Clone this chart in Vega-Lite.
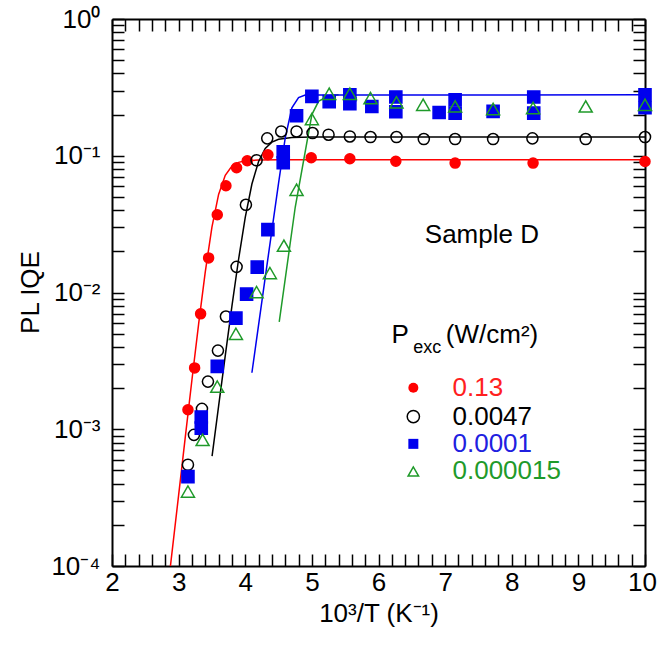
{
  "$schema": "https://vega.github.io/schema/vega-lite/v6.json",
  "width": 533,
  "height": 547,
  "autosize": {"type": "none"},
  "padding": {"left": 112, "top": 19, "right": 13, "bottom": 81},
  "background": "white",
  "config": {
    "view": {"stroke": null},
    "font": "Liberation Sans",
    "axis": {
      "labelFont": "Liberation Sans", "labelFontSize": 26, "labelColor": "black",
      "titleFont": "Liberation Sans", "titleFontSize": 26, "titleFontWeight": "normal", "titleColor": "black",
      "domainColor": "black", "domainWidth": 2, "tickColor": "black", "tickWidth": 1.5,
      "grid": false, "labelOverlap": false, "labelFlush": false
    }
  },
  "datasets": {
    "pts": [
      {"s": "0.13", "x": 3.14, "y": 0.00139},
      {"s": "0.13", "x": 3.24, "y": 0.00281},
      {"s": "0.13", "x": 3.33, "y": 0.00698},
      {"s": "0.13", "x": 3.45, "y": 0.0179},
      {"s": "0.13", "x": 3.58, "y": 0.037},
      {"s": "0.13", "x": 3.71, "y": 0.0604},
      {"s": "0.13", "x": 3.87, "y": 0.0817},
      {"s": "0.13", "x": 4.03, "y": 0.0919},
      {"s": "0.13", "x": 4.34, "y": 0.1017},
      {"s": "0.13", "x": 4.99, "y": 0.0967},
      {"s": "0.13", "x": 5.57, "y": 0.0951},
      {"s": "0.13", "x": 6.26, "y": 0.0911},
      {"s": "0.13", "x": 7.15, "y": 0.0884},
      {"s": "0.13", "x": 8.32, "y": 0.0884},
      {"s": "0.13", "x": 10.0, "y": 0.0908},
      {"s": "0.0047", "x": 3.14, "y": 0.00055},
      {"s": "0.0047", "x": 3.23, "y": 0.00091},
      {"s": "0.0047", "x": 3.35, "y": 0.00141},
      {"s": "0.0047", "x": 3.44, "y": 0.00223},
      {"s": "0.0047", "x": 3.59, "y": 0.00376},
      {"s": "0.0047", "x": 3.71, "y": 0.00667},
      {"s": "0.0047", "x": 3.87, "y": 0.0154},
      {"s": "0.0047", "x": 4.01, "y": 0.0438},
      {"s": "0.0047", "x": 4.17, "y": 0.0927},
      {"s": "0.0047", "x": 4.33, "y": 0.134},
      {"s": "0.0047", "x": 4.54, "y": 0.1506},
      {"s": "0.0047", "x": 4.77, "y": 0.1506},
      {"s": "0.0047", "x": 5.01, "y": 0.1466},
      {"s": "0.0047", "x": 5.25, "y": 0.1425},
      {"s": "0.0047", "x": 5.57, "y": 0.1384},
      {"s": "0.0047", "x": 5.88, "y": 0.137},
      {"s": "0.0047", "x": 6.27, "y": 0.137},
      {"s": "0.0047", "x": 6.68, "y": 0.1325},
      {"s": "0.0047", "x": 7.15, "y": 0.1325},
      {"s": "0.0047", "x": 7.72, "y": 0.1325},
      {"s": "0.0047", "x": 8.31, "y": 0.134},
      {"s": "0.0047", "x": 9.11, "y": 0.1325},
      {"s": "0.0047", "x": 10.0, "y": 0.137},
      {"s": "0.0001", "x": 3.14, "y": 0.00045},
      {"s": "0.0001", "x": 3.34, "y": 0.00123},
      {"s": "0.0001", "x": 3.34, "y": 0.00102},
      {"s": "0.0001", "x": 3.58, "y": 0.00288},
      {"s": "0.0001", "x": 3.86, "y": 0.0065},
      {"s": "0.0001", "x": 4.02, "y": 0.00973},
      {"s": "0.0001", "x": 4.18, "y": 0.01534},
      {"s": "0.0001", "x": 4.34, "y": 0.0288},
      {"s": "0.0001", "x": 4.57, "y": 0.107},
      {"s": "0.0001", "x": 4.57, "y": 0.0889},
      {"s": "0.0001", "x": 4.77, "y": 0.196},
      {"s": "0.0001", "x": 5.0, "y": 0.272},
      {"s": "0.0001", "x": 5.26, "y": 0.249},
      {"s": "0.0001", "x": 5.57, "y": 0.279},
      {"s": "0.0001", "x": 5.57, "y": 0.24},
      {"s": "0.0001", "x": 5.9, "y": 0.2294},
      {"s": "0.0001", "x": 6.26, "y": 0.269},
      {"s": "0.0001", "x": 6.26, "y": 0.21},
      {"s": "0.0001", "x": 6.91, "y": 0.207},
      {"s": "0.0001", "x": 7.15, "y": 0.257},
      {"s": "0.0001", "x": 7.15, "y": 0.205},
      {"s": "0.0001", "x": 7.72, "y": 0.211},
      {"s": "0.0001", "x": 8.33, "y": 0.269},
      {"s": "0.0001", "x": 8.33, "y": 0.205},
      {"s": "0.0001", "x": 10.0, "y": 0.279},
      {"s": "0.0001", "x": 10.0, "y": 0.2245},
      {"s": "0.000015", "x": 3.14, "y": 0.00035},
      {"s": "0.000015", "x": 3.36, "y": 0.000836},
      {"s": "0.000015", "x": 3.58, "y": 0.00205},
      {"s": "0.000015", "x": 3.86, "y": 0.00499},
      {"s": "0.000015", "x": 4.17, "y": 0.01007},
      {"s": "0.000015", "x": 4.37, "y": 0.01387},
      {"s": "0.000015", "x": 4.58, "y": 0.022},
      {"s": "0.000015", "x": 4.77, "y": 0.0564},
      {"s": "0.000015", "x": 5.0, "y": 0.1855},
      {"s": "0.000015", "x": 5.26, "y": 0.284},
      {"s": "0.000015", "x": 5.57, "y": 0.284},
      {"s": "0.000015", "x": 5.88, "y": 0.264},
      {"s": "0.000015", "x": 6.27, "y": 0.246},
      {"s": "0.000015", "x": 6.67, "y": 0.236},
      {"s": "0.000015", "x": 7.15, "y": 0.2295},
      {"s": "0.000015", "x": 7.72, "y": 0.2197},
      {"s": "0.000015", "x": 8.32, "y": 0.2234},
      {"s": "0.000015", "x": 9.11, "y": 0.2295},
      {"s": "0.000015", "x": 10.0, "y": 0.236}
    ],
    "fit": [
      {"s": "0.13", "x": 2.877, "y": 0.0001},
      {"s": "0.13", "x": 3.0, "y": 0.00033},
      {"s": "0.13", "x": 3.1, "y": 0.000877},
      {"s": "0.13", "x": 3.2, "y": 0.0023},
      {"s": "0.13", "x": 3.3, "y": 0.00587},
      {"s": "0.13", "x": 3.4, "y": 0.01416},
      {"s": "0.13", "x": 3.5, "y": 0.0301},
      {"s": "0.13", "x": 3.6, "y": 0.0521},
      {"s": "0.13", "x": 3.7, "y": 0.0719},
      {"s": "0.13", "x": 3.8, "y": 0.0839},
      {"s": "0.13", "x": 3.9, "y": 0.0895},
      {"s": "0.13", "x": 4.0, "y": 0.0919},
      {"s": "0.13", "x": 4.2, "y": 0.0931},
      {"s": "0.13", "x": 4.5, "y": 0.0933},
      {"s": "0.13", "x": 10.0, "y": 0.0933},
      {"s": "0.0047", "x": 3.502, "y": 0.000637},
      {"s": "0.0047", "x": 3.6, "y": 0.001476},
      {"s": "0.0047", "x": 3.7, "y": 0.00346},
      {"s": "0.0047", "x": 3.8, "y": 0.00794},
      {"s": "0.0047", "x": 3.9, "y": 0.0175},
      {"s": "0.0047", "x": 4.0, "y": 0.0354},
      {"s": "0.0047", "x": 4.1, "y": 0.0621},
      {"s": "0.0047", "x": 4.2, "y": 0.0908},
      {"s": "0.0047", "x": 4.3, "y": 0.113},
      {"s": "0.0047", "x": 4.4, "y": 0.1257},
      {"s": "0.0047", "x": 4.5, "y": 0.132},
      {"s": "0.0047", "x": 4.7, "y": 0.136},
      {"s": "0.0047", "x": 5.0, "y": 0.137},
      {"s": "0.0047", "x": 10.0, "y": 0.137},
      {"s": "0.000015", "x": 4.51, "y": 0.0061},
      {"s": "0.000015", "x": 4.75, "y": 0.042},
      {"s": "0.000015", "x": 5.0, "y": 0.2},
      {"s": "0.000015", "x": 5.1, "y": 0.25},
      {"s": "0.000015", "x": 5.25, "y": 0.275},
      {"s": "0.000015", "x": 5.4, "y": 0.279},
      {"s": "0.0001", "x": 4.1, "y": 0.00259},
      {"s": "0.0001", "x": 4.3, "y": 0.0129},
      {"s": "0.0001", "x": 4.5, "y": 0.063},
      {"s": "0.0001", "x": 4.6, "y": 0.135},
      {"s": "0.0001", "x": 4.7, "y": 0.224},
      {"s": "0.0001", "x": 4.8, "y": 0.266},
      {"s": "0.0001", "x": 4.9, "y": 0.278},
      {"s": "0.0001", "x": 10.0, "y": 0.279}
    ]
  },
  "resolve": {"axis": {"x": "independent", "y": "independent"}},
  "layer": [
    {
      "data": {"name": "fit"},
      "mark": {"type": "line", "strokeWidth": 1.5, "clip": true},
      "encoding": {
        "x": {
          "field": "x", "type": "quantitative",
          "scale": {"domain": [2, 10], "nice": false, "zero": false},
          "axis": {
            "orient": "bottom",
            "values": [2,2.2,2.4,2.6,2.8,3,3.2,3.4,3.6,3.8,4,4.2,4.4,4.6,4.8,5,5.2,5.4,5.6,5.8,6,6.2,6.4,6.6,6.8,7,7.2,7.4,7.6,7.8,8,8.2,8.4,8.6,8.8,9,9.2,9.4,9.6,9.8,10],
            "labelExpr": "abs(datum.value - round(datum.value)) < 0.001 ? '' + round(datum.value) : ''",
            "labelOffset": {"condition": {"test": "datum.value > 9.5", "value": -3}, "value": 0},
            "tickSize": -12,
            "labelPadding": 15,
            "title": "10³/T (K⁻¹)",
            "titleX": 266.5, "titleY": 55, "titleBaseline": "alphabetic", "titleAlign": "center",
            "encode": {"ticks": {"update": {"y2": {"signal": "abs(datum.value - round(datum.value)) < 0.001 ? -12 : -6"}}}}
          }
        },
        "y": {
          "field": "y", "type": "quantitative",
          "scale": {"type": "log", "domain": [0.0001, 1], "nice": false},
          "axis": {
            "orient": "left",
            "values": [0.0001,0.0002,0.0003,0.0004,0.0005,0.0006,0.0007,0.0008,0.0009,0.001,0.002,0.003,0.004,0.005,0.006,0.007,0.008,0.009,0.01,0.02,0.03,0.04,0.05,0.06,0.07,0.08,0.09,0.1,0.2,0.3,0.4,0.5,0.6,0.7,0.8,0.9,1],
            "labelExpr": "abs(log(datum.value)/LN10 - round(log(datum.value)/LN10)) < 0.001 ? '10' + ['⁰','⁻¹','⁻²','⁻³','⁻⁴'][round(-log(datum.value)/LN10)] : ''",
            "tickSize": -12,
            "labelPadding": 24,
            "title": "PL IQE",
            "titleX": -82, "titleY": 273, "titleAngle": -90, "titleBaseline": "middle", "titleAlign": "center",
            "encode": {"ticks": {"update": {"x2": {"signal": "abs(log(datum.value)/LN10 - round(log(datum.value)/LN10)) < 0.001 ? 12 : 6"}}}}
          }
        },
        "color": {
          "field": "s", "type": "nominal",
          "scale": {"domain": ["0.13", "0.0047", "0.0001", "0.000015"], "range": ["#ff0000", "#000000", "#0000ee", "#1f9a2a"]},
          "legend": null
        }
      }
    },
    {
      "data": {"name": "pts"},
      "mark": {"type": "point", "opacity": 1, "strokeWidth": 1.5},
      "encoding": {
        "x": {
          "field": "x", "type": "quantitative",
          "scale": {"domain": [2, 10], "nice": false, "zero": false},
          "axis": {
            "orient": "top",
            "values": [2,2.2,2.4,2.6,2.8,3,3.2,3.4,3.6,3.8,4,4.2,4.4,4.6,4.8,5,5.2,5.4,5.6,5.8,6,6.2,6.4,6.6,6.8,7,7.2,7.4,7.6,7.8,8,8.2,8.4,8.6,8.8,9,9.2,9.4,9.6,9.8,10],
            "labels": false, "title": null, "tickSize": -12,
            "encode": {"ticks": {"update": {"y2": {"signal": "abs(datum.value - round(datum.value)) < 0.001 ? 12 : 6"}}}}
          }
        },
        "y": {
          "field": "y", "type": "quantitative",
          "scale": {"type": "log", "domain": [0.0001, 1], "nice": false},
          "axis": {
            "orient": "right",
            "values": [0.0001,0.0002,0.0003,0.0004,0.0005,0.0006,0.0007,0.0008,0.0009,0.001,0.002,0.003,0.004,0.005,0.006,0.007,0.008,0.009,0.01,0.02,0.03,0.04,0.05,0.06,0.07,0.08,0.09,0.1,0.2,0.3,0.4,0.5,0.6,0.7,0.8,0.9,1],
            "labels": false, "title": null, "tickSize": -12,
            "encode": {"ticks": {"update": {"x2": {"signal": "abs(log(datum.value)/LN10 - round(log(datum.value)/LN10)) < 0.001 ? -12 : -6"}}}}
          }
        },
        "stroke": {
          "field": "s", "type": "nominal",
          "scale": {"domain": ["0.13", "0.0047", "0.0001", "0.000015"], "range": ["#ff0000", "#000000", "#0000ee", "#1f9a2a"]},
          "legend": null
        },
        "fill": {
          "field": "s", "type": "nominal",
          "scale": {"domain": ["0.13", "0.0047", "0.0001", "0.000015"], "range": ["#ff0000", "transparent", "#0000ee", "transparent"]},
          "legend": null
        },
        "shape": {
          "field": "s", "type": "nominal",
          "scale": {"domain": ["0.13", "0.0047", "0.0001", "0.000015"], "range": ["circle", "circle", "square", "triangle-up"]},
          "legend": null
        },
        "size": {
          "field": "s", "type": "nominal",
          "scale": {"domain": ["0.13", "0.0047", "0.0001", "0.000015"], "range": [100, 170, 110, 120]},
          "legend": null
        }
      }
    },
    {
      "data": {"values": [{}]},
      "mark": {"type": "text", "fontSize": 26, "font": "Liberation Sans", "align": "left", "baseline": "alphabetic", "color": "black"},
      "encoding": {
        "x": {"datum": 6.695, "type": "quantitative", "axis": null},
        "y": {"datum": 0.02297, "type": "quantitative", "axis": null},
        "text": {"value": "Sample D"}
      }
    },
    {
      "data": {"values": [{}]},
      "mark": {"type": "text", "fontSize": 26, "font": "Liberation Sans", "align": "left", "baseline": "alphabetic", "color": "black"},
      "encoding": {
        "x": {"datum": 6.195, "type": "quantitative", "axis": null},
        "y": {"datum": 0.00426, "type": "quantitative", "axis": null},
        "text": {"value": "P"}
      }
    },
    {
      "data": {"values": [{}]},
      "mark": {"type": "text", "fontSize": 18, "font": "Liberation Sans", "align": "left", "baseline": "alphabetic", "color": "black"},
      "encoding": {
        "x": {"datum": 6.52, "type": "quantitative", "axis": null},
        "y": {"datum": 0.0036, "type": "quantitative", "axis": null},
        "text": {"value": "exc"}
      }
    },
    {
      "data": {"values": [{}]},
      "mark": {"type": "text", "fontSize": 26, "font": "Liberation Sans", "align": "left", "baseline": "alphabetic", "color": "black"},
      "encoding": {
        "x": {"datum": 7.011, "type": "quantitative", "axis": null},
        "y": {"datum": 0.00426, "type": "quantitative", "axis": null},
        "text": {"value": "(W/cm²)"}
      }
    },
    {
      "data": {"values": [{}]},
      "mark": {"type": "point", "shape": "circle", "filled": true, "color": "#ff0000", "size": 100, "opacity": 1},
      "encoding": {"x": {"datum": 6.523, "type": "quantitative", "axis": null}, "y": {"datum": 0.00201, "type": "quantitative", "axis": null}}
    },
    {
      "data": {"values": [{}]},
      "mark": {"type": "point", "shape": "circle", "filled": false, "color": "#000000", "size": 150, "strokeWidth": 1.5, "opacity": 1},
      "encoding": {"x": {"datum": 6.523, "type": "quantitative", "axis": null}, "y": {"datum": 0.001239, "type": "quantitative", "axis": null}}
    },
    {
      "data": {"values": [{}]},
      "mark": {"type": "point", "shape": "square", "filled": true, "color": "#0000ee", "size": 100, "opacity": 1},
      "encoding": {"x": {"datum": 6.523, "type": "quantitative", "axis": null}, "y": {"datum": 0.000782, "type": "quantitative", "axis": null}}
    },
    {
      "data": {"values": [{}]},
      "mark": {"type": "point", "shape": "triangle-up", "filled": false, "color": "#1f9a2a", "size": 110, "strokeWidth": 1.5, "opacity": 1},
      "encoding": {"x": {"datum": 6.523, "type": "quantitative", "axis": null}, "y": {"datum": 0.000491, "type": "quantitative", "axis": null}}
    },
    {
      "data": {"values": [{}]},
      "mark": {"type": "text", "fontSize": 26, "font": "Liberation Sans", "align": "left", "baseline": "middle", "color": "#ff2020"},
      "encoding": {"x": {"datum": 7.111, "type": "quantitative", "axis": null}, "y": {"datum": 0.00201, "type": "quantitative", "axis": null}, "text": {"value": "0.13"}}
    },
    {
      "data": {"values": [{}]},
      "mark": {"type": "text", "fontSize": 26, "font": "Liberation Sans", "align": "left", "baseline": "middle", "color": "#000000"},
      "encoding": {"x": {"datum": 7.111, "type": "quantitative", "axis": null}, "y": {"datum": 0.001239, "type": "quantitative", "axis": null}, "text": {"value": "0.0047"}}
    },
    {
      "data": {"values": [{}]},
      "mark": {"type": "text", "fontSize": 26, "font": "Liberation Sans", "align": "left", "baseline": "middle", "color": "#2020e0"},
      "encoding": {"x": {"datum": 7.111, "type": "quantitative", "axis": null}, "y": {"datum": 0.000782, "type": "quantitative", "axis": null}, "text": {"value": "0.0001"}}
    },
    {
      "data": {"values": [{}]},
      "mark": {"type": "text", "fontSize": 26, "font": "Liberation Sans", "align": "left", "baseline": "middle", "color": "#1f9a2a"},
      "encoding": {"x": {"datum": 7.111, "type": "quantitative", "axis": null}, "y": {"datum": 0.000491, "type": "quantitative", "axis": null}, "text": {"value": "0.000015"}}
    }
  ]
}
